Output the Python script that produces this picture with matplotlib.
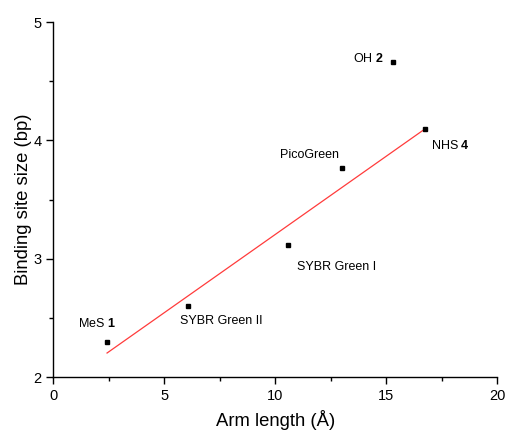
import numpy as np
import matplotlib
matplotlib.use('Agg')
import matplotlib.pyplot as plt
from matplotlib.ticker import MultipleLocator

plt.rcParams['font.family'] = ['Liberation Sans', 'DejaVu Sans']
plt.rcParams['mathtext.fontset'] = 'custom'
plt.rcParams['mathtext.bf'] = 'Liberation Sans:bold'
plt.rcParams['mathtext.rm'] = 'Liberation Sans'

# data
names = ['MeS', 'OH', 'NHS', 'SYBR Green II', 'SYBR Green I', 'PicoGreen']
numbers = ['1', '2', '4', '', '', '']
arm_length = [2.42, 15.29, 16.76, 6.08, 10.56, 13.02]
site_size = [2.30, 4.66, 4.095, 2.60, 3.115, 3.77]
in_fit = [True, False, True, True, True, True]

# label placement (pixel offsets from the point, alignment)
label_pos = {
    'MeS': ((-10, 18), 'center'),
    'OH': ((-9, 4), 'right'),
    'NHS': ((6, -16), 'left'),
    'SYBR Green II': ((-8, -15), 'left'),
    'SYBR Green I': ((9, -22), 'left'),
    'PicoGreen': ((-3, 13), 'right'),
}

fig = plt.figure(figsize=(5.05, 4.32), dpi=100)
ax = fig.add_axes([0.1056, 0.1266, 0.8792, 0.8224])

x = np.array(arm_length)
y = np.array(site_size)
m = np.array(in_fit)

ax.plot(x, y, 's', color='black', ms=3.2, zorder=3)

# linear fit (OH 2 left out)
k, b = np.polyfit(x[m], y[m], 1)
xf = np.array([x[m].min(), x[m].max()])
ax.plot(xf, k * xf + b, color='#ff3b3b', lw=0.9, zorder=2)

for nm, num, xi, yi in zip(names, numbers, x, y):
    off, ha = label_pos[nm]
    if num:
        txt = nm + r' $\mathbf{' + num + '}$'
    else:
        txt = nm
    ax.annotate(txt, (xi, yi), xytext=off, textcoords='offset pixels',
                ha=ha, va='center', fontsize=9)

ax.set_xlim(0, 20)
ax.set_ylim(2, 5)
ax.xaxis.set_major_locator(MultipleLocator(5))
ax.xaxis.set_minor_locator(MultipleLocator(2.5))
ax.yaxis.set_major_locator(MultipleLocator(1))
ax.yaxis.set_minor_locator(MultipleLocator(0.5))
ax.tick_params(which='major', direction='out', length=5, width=1, labelsize=10.5)
ax.tick_params(which='minor', direction='out', length=3, width=1)
for s in ['top', 'right']:
    ax.spines[s].set_visible(False)
for s in ['left', 'bottom']:
    ax.spines[s].set_linewidth(1)

ax.set_xlabel('Arm length (Å)', fontsize=13.3, labelpad=5)
ax.set_ylabel('Binding site size (bp)', fontsize=13.3, labelpad=1)

plt.savefig('out.png', dpi=100)
